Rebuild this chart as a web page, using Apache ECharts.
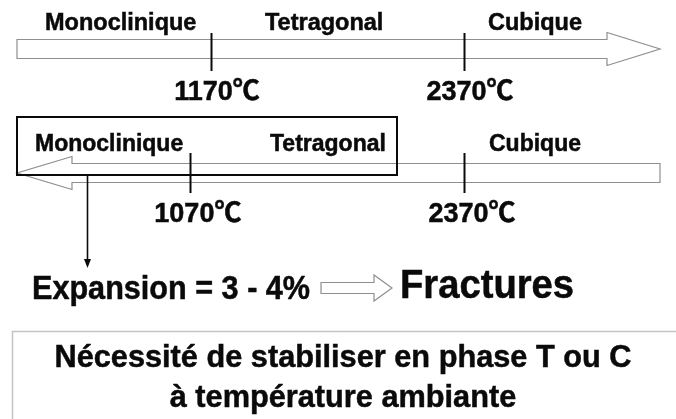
<!DOCTYPE html>
<html><head><meta charset="utf-8">
<script src="https://cdn.jsdelivr.net/npm/echarts@6/dist/echarts.min.js"></script>
<style>html,body{margin:0;padding:0;background:#fff}#c{width:676px;height:419px}</style>
</head><body><div id="c"></div>
<script>
// ---- data ----
const rows = ['Chauffage', 'Refroidissement'];
const arrowDirections = ['right', 'left'];
const phases = ['Monoclinique', 'Tetragonal', 'Cubique'];
const heatingTransitions = [1170, 2370];
const coolingTransitions = [1070, 2370];
const tempUnit = '℃';
const expansionLabel = 'Expansion = 3 - 4%';
const consequenceLabel = 'Fractures';
const conclusionLines = ['Nécessité de stabiliser en phase T ou C', 'à température ambiante'];
const axisMin = 250, axisMax = 3300;

// ---- styles ----
const FONT = '"Liberation Sans", Arial, "Noto Sans CJK SC", sans-serif';
const INK = '#0a0a0a';
const ARROW_STROKE = '#8f8f8f';

function txt(text, x, y, size, opts) {
  opts = opts || {};
  return {
    type: 'text', x: x, y: y, scaleX: opts.scaleX || 1, z: 50,
    style: {
      text: text, fontSize: size, fontWeight: 'bold', fontFamily: FONT, fill: INK,
      stroke: INK, lineWidth: 0.5,
      align: opts.align || 'left', textAlign: opts.align || 'left',
      verticalAlign: 'middle', textVerticalAlign: 'middle'
    }
  };
}

const chart = echarts.init(document.getElementById('c'), null, {renderer: 'canvas'});

const arrowData = rows.map((r, i) => [axisMin, axisMax, i]);
const tickData = heatingTransitions.map(t => [t, 0]).concat(coolingTransitions.map(t => [t, 1]));

const headLen = [53, 55], headHalf = 16.5, shaftHalf = 9.5;
const tickExt = [[-16, 22], [-20, 20]];
const labelDx = [6, 8];
const labelDy = [44, 42];

function renderArrow(params, api) {
  const i = api.value(2);
  const a = api.coord([api.value(0), i]);
  const b = api.coord([api.value(1), i]);
  const y = a[1];
  const h = headLen[i];
  let pts;
  if (arrowDirections[i] === 'right') {
    const x0 = a[0], x1 = b[0], hb = x1 - h;
    pts = [[x0, y - shaftHalf], [hb, y - shaftHalf], [hb, y - headHalf], [x1, y], [hb, y + headHalf], [hb, y + shaftHalf], [x0, y + shaftHalf]];
  } else {
    const x0 = a[0], x1 = b[0], hb = x0 + h;
    pts = [[x1, y - shaftHalf], [hb, y - shaftHalf], [hb, y - headHalf], [x0, y], [hb, y + headHalf], [hb, y + shaftHalf], [x1, y + shaftHalf]];
  }
  return {type: 'polygon', shape: {points: pts}, style: {fill: '#fff', stroke: ARROW_STROKE, lineWidth: 1.2}};
}

function renderTick(params, api) {
  const i = api.value(1);
  const p = api.coord([api.value(0), i]);
  const x = Math.round(p[0]) + 0.5;
  return {
    type: 'group',
    children: [
      {type: 'line', shape: {x1: x, y1: p[1] + tickExt[i][0], x2: x, y2: p[1] + tickExt[i][1]}, style: {stroke: INK, lineWidth: 2}},
      {type: 'text', x: p[0] + labelDx[i], y: p[1] + labelDy[i], style: {
        text: api.value(0) + tempUnit, fontSize: 27, fontWeight: 'bold', fontFamily: FONT, fill: INK,
        stroke: INK, lineWidth: 0.5,
        align: 'center', textAlign: 'center', verticalAlign: 'middle', textVerticalAlign: 'middle'}}
    ]
  };
}

const graphics = [
  // phase labels, heating row
  txt(phases[0], 45, 24, 23.5),
  txt(phases[1], 265, 24, 23.5),
  txt(phases[2], 488, 24, 23.5),
  // phase labels, cooling row
  txt(phases[0], 35, 145, 23),
  txt(phases[1], 270, 145, 23),
  txt(phases[2], 489, 145, 23),
  // black frame around Monoclinique/Tetragonal on cooling
  {type: 'rect', z: 60, shape: {x: 17, y: 117, width: 380, height: 58}, style: {fill: 'none', stroke: INK, lineWidth: 2}},
  // down arrow
  {type: 'line', z: 60, shape: {x1: 87.5, y1: 176, x2: 87.5, y2: 262}, style: {stroke: INK, lineWidth: 1.6}},
  {type: 'polygon', z: 60, shape: {points: [[84, 259], [91, 259], [87.5, 268]]}, style: {fill: INK}},
  // expansion line
  txt(expansionLabel, 32, 289.5, 34, {scaleX: 0.9}),
  {type: 'polygon', z: 50, shape: {points: [[321, 282.5], [374, 282.5], [374, 275], [392, 288], [374, 301], [374, 293.5], [321, 293.5]]},
    style: {fill: '#fff', stroke: ARROW_STROKE, lineWidth: 1.2}},
  txt(consequenceLabel, 400, 286.5, 40, {scaleX: 0.955}),
  // conclusion box
  {type: 'polyline', z: 40, shape: {points: [[12.5, 419], [12.5, 331.5], [676, 331.5]]}, style: {stroke: '#c4c4c4', lineWidth: 1.5, fill: 'none'}},
  txt(conclusionLines[0], 343, 358.5, 32, {scaleX: 0.96, align: 'center'}),
  txt(conclusionLines[1], 343, 398.5, 32, {scaleX: 0.96, align: 'center'})
];

chart.setOption({
  animation: false,
  backgroundColor: '#fff',
  grid: {left: 17, right: 16, top: 49, bottom: 246},
  xAxis: {type: 'value', min: axisMin, max: axisMax, show: false},
  yAxis: {type: 'category', data: rows, inverse: true, boundaryGap: false, show: false},
  series: [
    {type: 'custom', name: 'flèches', renderItem: renderArrow, data: arrowData, z: 2, clip: false},
    {type: 'custom', name: 'transitions', renderItem: renderTick, data: tickData, z: 3, clip: false}
  ],
  graphic: graphics
});
</script>
</body></html>
